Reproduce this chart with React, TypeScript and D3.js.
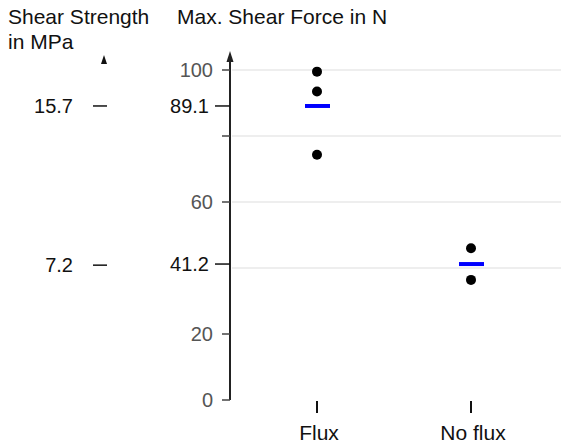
import * as d3 from "d3";

const groups = ["Flux", "No flux"];
const fluxValues = [99.5, 93.5, 74.3];
const noFluxValues = [46.0, 36.4];
const meanForce = [89.1, 41.2];
const meanStrength = [15.7, 7.2];
const forceTicks = [0, 20, 60, 100];
const minorTicks = [80];
const gridValues = [100, 80, 60, 40];

const W = 561;
const H = 446;
const FONT = "'Liberation Sans', Arial, sans-serif";

const App = () => {
  const y = d3.scaleLinear().domain([0, 100]).range([400, 70]);
  // secondary axis lines up with the mean force values
  const yMPa = d3
    .scaleLinear()
    .domain([0, (100 * meanStrength[0]) / meanForce[0]])
    .range([400, 70]);
  const x = d3.scalePoint().domain(groups).range([317, 471]);

  const series = [fluxValues, noFluxValues];
  const axisX = 230;

  return (
    <svg
      width={W}
      height={H}
      style={{ position: "absolute", left: 0, top: 0, background: "#fff" }}
      fontFamily={FONT}
    >
      {/* titles */}
      <text x={8} y={24} fontSize={21} fill="#111">
        Shear Strength
      </text>
      <text x={8} y={49} fontSize={21} fill="#111">
        in MPa
      </text>
      <text x={177} y={24} fontSize={21} fill="#111">
        Max. Shear Force in N
      </text>

      {/* gridlines */}
      {gridValues.map((v) => (
        <line key={v} x1={axisX + 2} x2={W} y1={y(v)} y2={y(v)} stroke="#e9e9e9" strokeWidth={1.5} />
      ))}

      {/* left (MPa) axis: arrow head + ticks only */}
      <path d={`M104,55 L101,64 L107,64 Z`} fill="#111" />
      {meanStrength.map((v) => (
        <g key={v} transform={`translate(0,${yMPa(v)})`}>
          <line x1={93} x2={107} stroke="#111" strokeWidth={1.5} />
          <text x={73} dy="0.35em" textAnchor="end" fontSize={20} fill="#111">
            {v}
          </text>
        </g>
      ))}

      {/* force axis */}
      <line x1={axisX} x2={axisX} y1={58} y2={y(0)} stroke="#222" strokeWidth={2} />
      <path d={`M${axisX},51 L${axisX - 3.5},62 L${axisX + 3.5},62 Z`} fill="#222" />
      {forceTicks.map((v) => (
        <g key={v} transform={`translate(0,${y(v)})`}>
          <line x1={222} x2={axisX} stroke="#444" strokeWidth={1.5} />
          <text x={213} dy="0.35em" textAnchor="end" fontSize={20} fill="#555">
            {v}
          </text>
        </g>
      ))}
      {minorTicks.map((v) => (
        <line key={v} x1={222} x2={axisX} y1={y(v)} y2={y(v)} stroke="#444" strokeWidth={1.5} />
      ))}
      {meanForce.map((v) => (
        <g key={v} transform={`translate(0,${y(v)})`}>
          <line x1={215} x2={axisX} stroke="#111" strokeWidth={1.5} />
          <text x={209} dy="0.35em" textAnchor="end" fontSize={20} fill="#111">
            {v}
          </text>
        </g>
      ))}

      {/* x ticks and labels */}
      {groups.map((g) => (
        <g key={g} transform={`translate(${x(g)},0)`}>
          <line y1={401} y2={413} stroke="#111" strokeWidth={2} />
          <text x={2} y={440} textAnchor="middle" fontSize={21} fill="#111">
            {g}
          </text>
        </g>
      ))}

      {/* points */}
      {series.map((vals, i) =>
        vals.map((v, j) => (
          <circle key={`${i}-${j}`} cx={x(groups[i])} cy={y(v)} r={5} fill="#000" />
        ))
      )}

      {/* means */}
      {meanForce.map((v, i) => (
        <line
          key={v}
          x1={(x(groups[i]) ?? 0) - 12}
          x2={(x(groups[i]) ?? 0) + 13}
          y1={y(v)}
          y2={y(v)}
          stroke="#0000ff"
          strokeWidth={4}
        />
      ))}
    </svg>
  );
};

export default App;
